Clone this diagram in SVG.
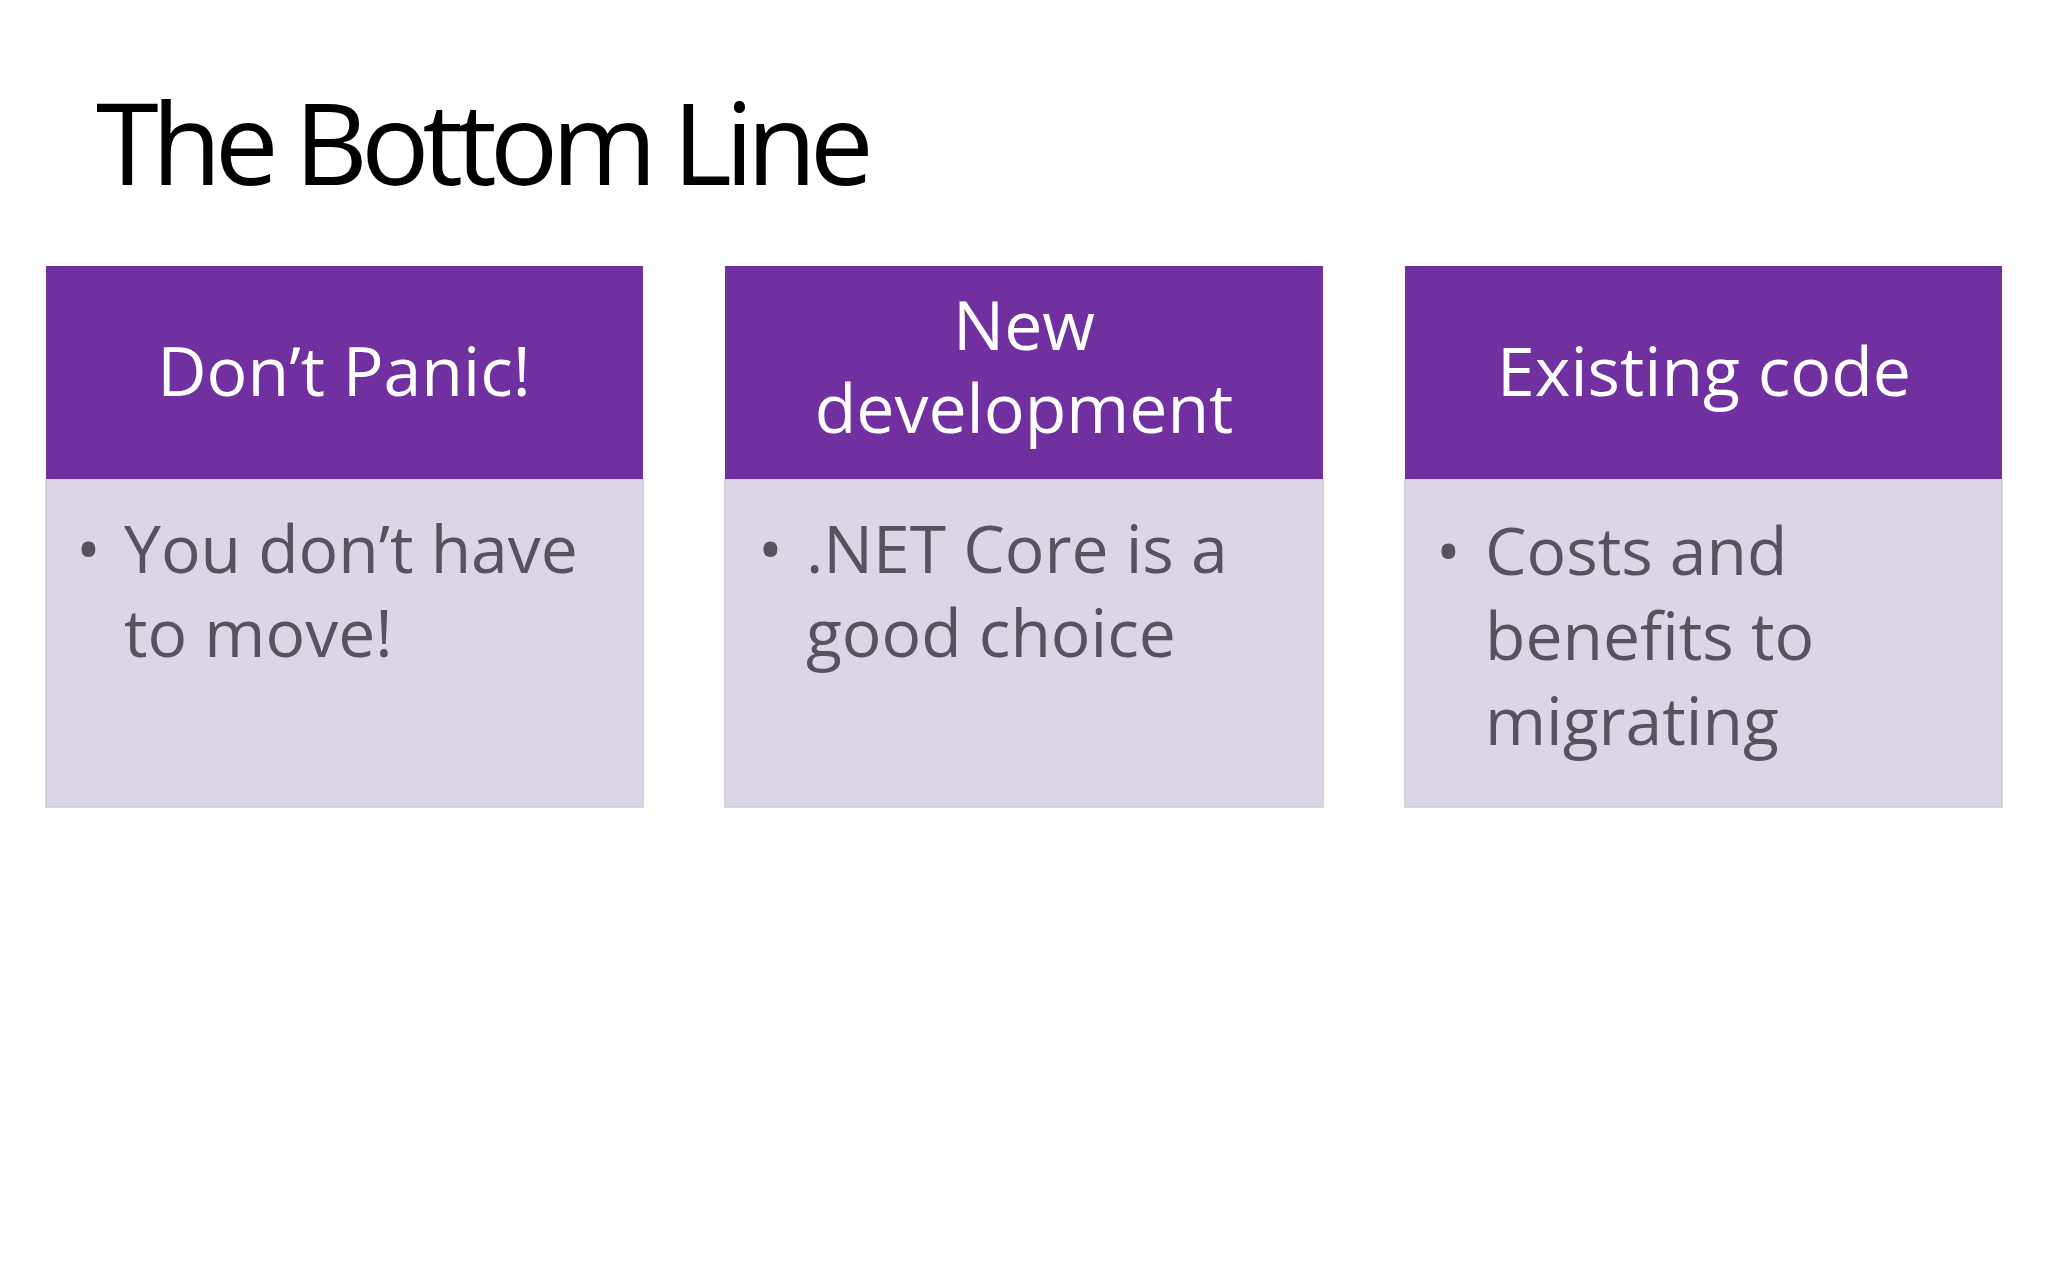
<svg xmlns="http://www.w3.org/2000/svg" width="2048" height="1280" viewBox="0 0 2048 1280">
<style>
.hd{fill:#7030A0}
.bd{fill:#DCD5E4;stroke:#CFC6DC;stroke-width:1.5}
.ht{font-family:"Open Sans","Liberation Sans",sans-serif;font-size:68px;fill:#fff;text-anchor:middle}
.bt{font-family:"Open Sans","Liberation Sans",sans-serif;font-size:66px;fill:#58525E}
.title{font-family:"Open Sans","Liberation Sans",sans-serif;font-size:114px;fill:#000;letter-spacing:-7px}
</style>
<rect width="2048" height="1280" fill="#fff"/>
<text class="title" x="96" y="185">The Bottom  Line</text>
<g id="n1">
<rect class="bd" x="46" y="479" width="597" height="328"/>
<rect class="hd" x="46" y="266" width="597" height="213"/>
<text class="ht" x="344" y="396">Don’t Panic!</text>
<text class="bt" x="76" y="573">•</text>
<text class="bt" x="124" y="573">You don’t have</text>
<text class="bt" x="124" y="657">to move!</text>
</g>
<g id="n2">
<rect class="bd" x="725" y="479" width="598" height="328"/>
<rect class="hd" x="725" y="266" width="598" height="213"/>
<text class="ht" x="1024" y="350">New</text>
<text class="ht" x="1024" y="433">development</text>
<text class="bt" x="758" y="573">•</text>
<text class="bt" x="806" y="573">.NET Core is a</text>
<text class="bt" x="806" y="657">good choice</text>
</g>
<g id="n3">
<rect class="bd" x="1405" y="479" width="597" height="328"/>
<rect class="hd" x="1405" y="266" width="597" height="213"/>
<text class="ht" x="1704" y="396">Existing code</text>
<text class="bt" x="1436" y="575">•</text>
<text class="bt" x="1485" y="575">Costs and</text>
<text class="bt" x="1485" y="660">benefits to</text>
<text class="bt" x="1485" y="745">migrating</text>
</g>
<g id="connectors"/>
</svg>
